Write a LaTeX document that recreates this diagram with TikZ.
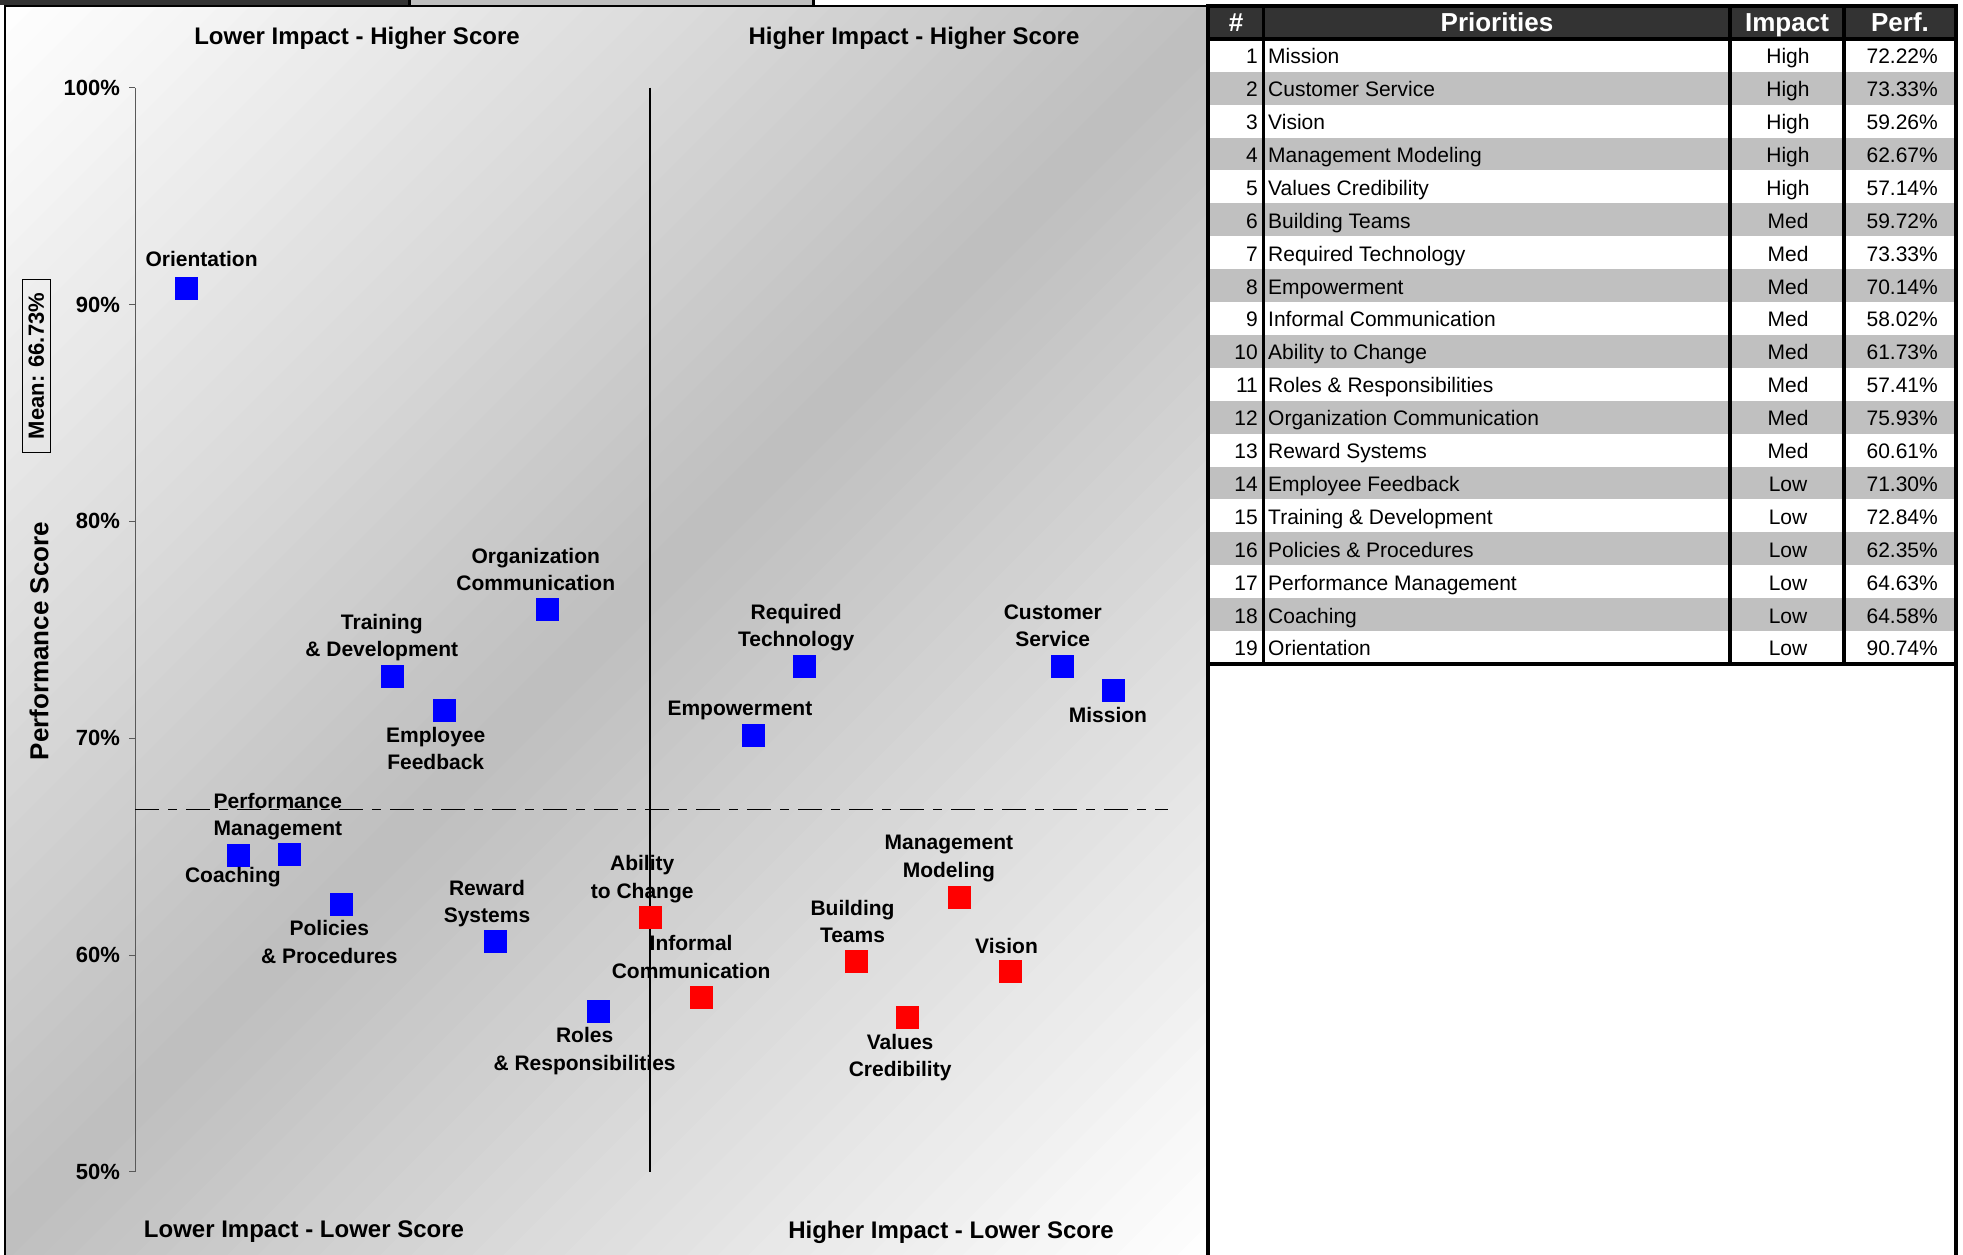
\documentclass[tikz,border=0pt]{standalone}
\usepackage{fontspec}
\setmainfont{Liberation Sans}
\definecolor{hdr}{HTML}{333333}
\definecolor{rowg}{HTML}{C0C0C0}
\definecolor{midg}{HTML}{BEBEBE}
\definecolor{tabg}{HTML}{BEBEBE}
\newcommand\mkpt[4]{\node[mk, fill=#4] (#1) at ({135.2+#2*51.5},{1171.8-(#3-50)*21.68}) {};}
\begin{document}
\begin{tikzpicture}[x=1pt,y=-1pt,
  lbl/.style={font=\bfseries\fontsize{21}{27.5}\selectfont, align=center, inner sep=0pt},
  qhead/.style={font=\bfseries\fontsize{24}{28}\selectfont, inner sep=0pt},
  ticklbl/.style={font=\bfseries\fontsize{22}{26}\selectfont, anchor=east, inner sep=0pt},
  mk/.style={rectangle, minimum size=23pt, inner sep=0pt, draw=none},
  cell/.style={font=\fontsize{21}{24}\selectfont, inner sep=0pt},
  hcell/.style={font=\bfseries\fontsize{26}{30}\selectfont, text=white, inner sep=0pt},
  tline/.style={line width=3.5pt, black}]
\useasboundingbox (0,0) rectangle (1963,1255);
\fill[white] (0,0) rectangle (1963,1255);
% chart panel background: diagonal gradient white -> grey -> white
\begin{scope}
\clip (5,6) rectangle (1208,1255);
\foreach \k in {0,...,79} {
  \pgfmathsetmacro\sa{11+\k*30.65}
  \pgfmathsetmacro\sb{\sa+31.65}
  \pgfmathsetmacro\f{100*(1-abs(2*(\k+0.5)/80-1))}
  \fill[midg!\f!white] (\sa,0) -- (\sb,0) -- ({\sb-1300},1300) -- ({\sa-1300},1300) -- cycle;
}
\end{scope}
% top strip
\fill[hdr] (0,0) rectangle (408,5);
\fill[black] (408,0) rectangle (411,5);
\fill[tabg] (411,0) rectangle (812,5);
\fill[black] (812,0) rectangle (815,5);
\draw[line width=2pt] (5,1260) -- (5,6) -- (1208,6);
% axis
\coordinate (ytop) at (135.2,87.6);
\coordinate (ybot) at (135.2,1171.8);
\draw[line width=1pt, gray!70!black] (ytop) -- (ybot);
\foreach \v [count=\k from 0] in {50,60,70,80,90,100} {
  \coordinate (tk\v) at (135.2,{1171.8-\k*216.8});
  \draw[line width=1pt, gray!70!black] ([xshift=-6pt]tk\v) -- (tk\v);
  \node[ticklbl] (tl\v) at ([xshift=-15pt]tk\v) {\v\%};
}
% divider and mean
\coordinate (dtop) at (650.2,87.6);
\coordinate (dbot) at (650.2,1171.8);
\draw[line width=2pt] (dtop) -- (dbot);
\coordinate (ml) at (135.2,809.1);
\coordinate (mr) at (1168,809.1);
\draw[line width=1.2pt, dash pattern=on 24pt off 9pt on 9pt off 9pt] (ml) -- (mr);
% axis title and mean box
\node[font=\bfseries\fontsize{26}{30}\selectfont, rotate=90, inner sep=0pt] (ptitle) at (39,641) {Performance Score};
\node[font=\bfseries\fontsize{22}{26}\selectfont, rotate=90, draw, line width=1pt, inner xsep=13pt, inner ysep=6pt] (meanbox) at (36.3,366) {Mean: 66.73\%};
% quadrant headers
\node[qhead] (q1) at (357,38) {Lower Impact - Higher Score};
\node[qhead] (q2) at (914,38) {Higher Impact - Higher Score};
\node[qhead] (q3) at (304,1232) {Lower Impact - Lower Score};
\node[qhead] (q4) at (951,1232) {Higher Impact - Lower Score};
% markers
\mkpt{orient}{1}{90.74}{blue}
\mkpt{coach}{2}{64.58}{blue}
\mkpt{perfm}{3}{64.63}{blue}
\mkpt{polic}{4}{62.35}{blue}
\mkpt{train}{5}{72.84}{blue}
\mkpt{emplf}{6}{71.30}{blue}
\mkpt{rewar}{7}{60.61}{blue}
\mkpt{orgco}{8}{75.93}{blue}
\mkpt{roles}{9}{57.41}{blue}
\mkpt{abili}{10}{61.73}{red}
\mkpt{infor}{11}{58.02}{red}
\mkpt{empow}{12}{70.14}{blue}
\mkpt{reqte}{13}{73.33}{blue}
\mkpt{build}{14}{59.72}{red}
\mkpt{value}{15}{57.14}{red}
\mkpt{mgmtm}{16}{62.67}{red}
\mkpt{visio}{17}{59.26}{red}
\mkpt{custs}{18}{73.33}{blue}
\mkpt{missi}{19}{72.22}{blue}
% labels
\node[lbl] (l1) at (201.6,259.1) {Orientation};
\node[lbl] (l2) at (535.8,569.6) {Organization\\Communication};
\node[lbl] (l3) at (381.8,637.5) {Training\\\& Development};
\node[lbl] (l4) at (435.7,748.6) {Employee\\Feedback};
\node[lbl] (l5) at (277.9,816.5) {Performance\\Management};
\node[lbl] (l6) at (232.9,877.6) {Coaching};
\node[lbl] (l7) at (329.3,942.1) {Policies\\\& Procedures};
\node[lbl] (l8) at (487.0,903.6) {Reward\\Systems};
\node[lbl] (l9) at (584.6,1051.3) {Roles\\\& Responsibilities};
\node[lbl] (l10) at (642.2,879.2) {Ability\\to Change};
\node[lbl] (l11) at (691.1,957.1) {Informal\\Communication};
\node[lbl] (l12) at (852.5,921.4) {Building\\Teams};
\node[lbl] (l13) at (948.9,858.6) {Management\\Modeling};
\node[lbl] (l14) at (900.1,1057.6) {Values\\Credibility};
\node[lbl] (l15) at (1006.5,946.4) {Vision};
\node[lbl] (l16) at (796.2,627.5) {Required\\Technology};
\node[lbl] (l17) at (739.9,710.8) {Empowerment};
\node[lbl] (l18) at (1052.8,626.0) {Customer\\Service};
\node[lbl] (l19) at (1107.9,714.8) {Mission};
% table
\fill[hdr] (1208,6) rectangle (1956,38.8);
\foreach \n/\nm/\imp/\pf in {1/Mission/High/72.22,2/Customer Service/High/73.33,3/Vision/High/59.26,4/Management Modeling/High/62.67,5/Values Credibility/High/57.14,6/Building Teams/Med/59.72,7/Required Technology/Med/73.33,8/Empowerment/Med/70.14,9/Informal Communication/Med/58.02,10/Ability to Change/Med/61.73,11/Roles \& Responsibilities/Med/57.41,12/Organization Communication/Med/75.93,13/Reward Systems/Med/60.61,14/Employee Feedback/Low/71.30,15/Training \& Development/Low/72.84,16/Policies \& Procedures/Low/62.35,17/Performance Management/Low/64.63,18/Coaching/Low/64.58,19/Orientation/Low/90.74} {
  \pgfmathsetmacro\yt{38.8+(\n-1)*32.9}
  \pgfmathsetmacro\yb{\yt+32.9}
  \pgfmathsetmacro\yl{\yt+16.45+8.5}
  \ifodd\n\else\fill[rowg] (1208,\yt) rectangle (1956,\yb);\fi
  \node[cell, anchor=base east] (num\n) at (1258,\yl) {\n};
  \node[cell, anchor=base west] (nam\n) at (1268,\yl) {\nm};
  \node[cell, anchor=base] (imp\n) at (1788,\yl) {\imp};
  \node[cell, anchor=base east] (prf\n) at (1938,\yl) {\pf\%};
}
\node[hcell, anchor=base] (h1) at (1236,32) {\#};
\node[hcell, anchor=base] (h2) at (1497,32) {Priorities};
\node[hcell, anchor=base] (h3) at (1787,32) {Impact};
\node[hcell, anchor=base] (h4) at (1900,32) {Perf.};
\draw[tline] (1263.5,6) -- (1263.5,664);
\draw[tline] (1730,6) -- (1730,664);
\draw[tline] (1844,6) -- (1844,664);
\draw[tline] (1208,38.8) -- (1956,38.8);
\draw[tline] (1208,664) -- (1956,664);
\draw[tline] (1208,1260) -- (1208,6) -- (1956,6) -- (1956,1260);
\end{tikzpicture}
\end{document}
